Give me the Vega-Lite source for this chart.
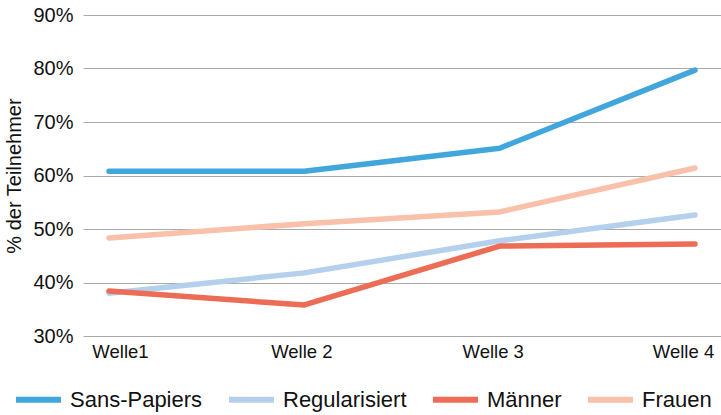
{
  "$schema": "https://vega.github.io/schema/vega-lite/v6.json",
  "width": 638,
  "height": 321,
  "autosize": {"type": "none"},
  "padding": {"left": 83, "right": 0, "top": 15, "bottom": 79},
  "config": {
    "view": {"stroke": null},
    "font": "Liberation Sans",
    "axis": {"labelFont": "Liberation Sans", "titleFont": "Liberation Sans"},
    "legend": {"labelFont": "Liberation Sans"}
  },
  "data": {
    "values": [
      {"welle": "Welle1", "gruppe": "Sans-Papiers", "wert": 60.8},
      {"welle": "Welle 2", "gruppe": "Sans-Papiers", "wert": 60.8},
      {"welle": "Welle 3", "gruppe": "Sans-Papiers", "wert": 65.1},
      {"welle": "Welle 4", "gruppe": "Sans-Papiers", "wert": 79.7},
      {"welle": "Welle1", "gruppe": "Regularisiert", "wert": 38.0},
      {"welle": "Welle 2", "gruppe": "Regularisiert", "wert": 41.8},
      {"welle": "Welle 3", "gruppe": "Regularisiert", "wert": 47.8},
      {"welle": "Welle 4", "gruppe": "Regularisiert", "wert": 52.6},
      {"welle": "Welle1", "gruppe": "Männer", "wert": 38.4},
      {"welle": "Welle 2", "gruppe": "Männer", "wert": 35.8},
      {"welle": "Welle 3", "gruppe": "Männer", "wert": 46.8},
      {"welle": "Welle 4", "gruppe": "Männer", "wert": 47.2},
      {"welle": "Welle1", "gruppe": "Frauen", "wert": 48.3},
      {"welle": "Welle 2", "gruppe": "Frauen", "wert": 51.0},
      {"welle": "Welle 3", "gruppe": "Frauen", "wert": 53.2},
      {"welle": "Welle 4", "gruppe": "Frauen", "wert": 61.4}
    ]
  },
  "mark": {"type": "line", "strokeWidth": 5.5, "strokeCap": "round", "strokeJoin": "round"},
  "encoding": {
    "x": {
      "field": "welle",
      "type": "ordinal",
      "sort": ["Welle1", "Welle 2", "Welle 3", "Welle 4"],
      "scale": {"type": "point", "padding": 0.133},
      "axis": {
        "title": null,
        "labelAngle": 0,
        "labelFontSize": 18.5,
        "labelColor": "#111",
        "labelPadding": 6,
        "labelFlush": false,
        "labelBound": false,
        "labelOffset": {
          "condition": [
            {"test": "datum.value === 'Welle1'", "value": 11},
            {"test": "datum.value === 'Welle 2'", "value": -3},
            {"test": "datum.value === 'Welle 3'", "value": -7}
          ],
          "value": -12
        },
        "ticks": false,
        "domain": false,
        "grid": false
      }
    },
    "y": {
      "field": "wert",
      "type": "quantitative",
      "scale": {"domain": [30, 90], "nice": false},
      "axis": {
        "title": "% der Teilnehmer",
        "titleFontSize": 20,
        "titleFontWeight": "normal",
        "titleColor": "#111",
        "titlePadding": 8,
        "labelFontSize": 20,
        "labelColor": "#111",
        "labelPadding": 10,
        "values": [30, 40, 50, 60, 70, 80, 90],
        "labelExpr": "datum.value + '%'",
        "ticks": false,
        "domain": false,
        "grid": true,
        "gridColor": "#aaaaaa",
        "gridWidth": 1.2
      }
    },
    "color": {
      "field": "gruppe",
      "type": "nominal",
      "sort": ["Sans-Papiers", "Regularisiert", "Männer", "Frauen"],
      "scale": {
        "domain": ["Sans-Papiers", "Regularisiert", "Männer", "Frauen"],
        "range": ["#41a6dc", "#b4d0ec", "#ec6c55", "#f9c0aa"]
      },
      "legend": {
        "title": null,
        "orient": "none",
        "legendX": -70,
        "legendY": 359,
        "direction": "horizontal",
        "symbolType": "stroke",
        "symbolStrokeWidth": 6,
        "symbolSize": 2025,
        "labelFontSize": 22,
        "labelColor": "#111",
        "labelOffset": 6,
        "columnPadding": 14
      }
    }
  }
}
